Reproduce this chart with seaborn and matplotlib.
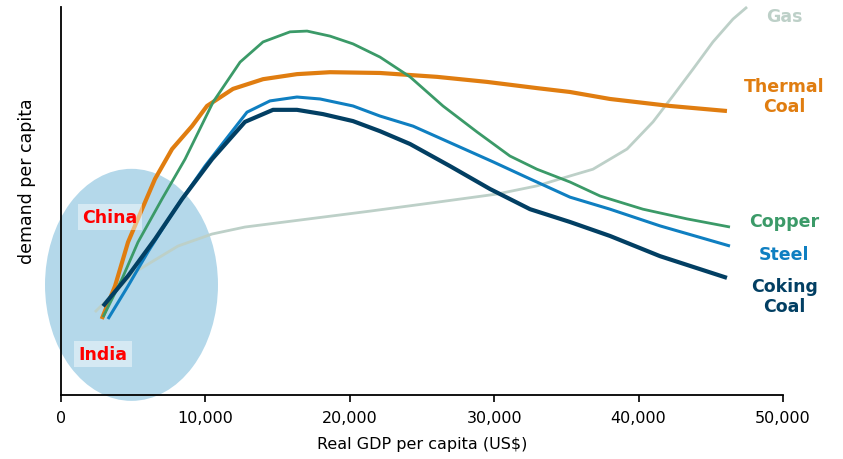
import numpy as np
import pandas as pd
import matplotlib
matplotlib.use("Agg")
import matplotlib.pyplot as plt
import seaborn as sns
from matplotlib.patches import Ellipse
from matplotlib.ticker import FuncFormatter

sns.set_style("white")
plt.rcParams['font.family'] = ['DejaVu Sans']
plt.rcParams['text.color'] = 'black'
plt.rcParams['axes.labelcolor'] = 'black'
plt.rcParams['xtick.color'] = 'black'

# ============================================================
# DATA (x in US$ thousands, y in arbitrary units)
# ============================================================
gas_x = [2.35, 5.12, 8.10, 10.46, 12.74, 21.40, 26.04, 30.19, 32.96, 34.56, 36.84,
         39.20, 41.00, 42.38, 43.77, 45.15, 46.54, 47.51]
gas_y = [21.4, 31.7, 38.4, 41.5, 43.3, 47.4, 49.7, 51.8, 53.9, 55.7, 58.2,
         63.4, 70.4, 77.1, 84.0, 91.0, 96.9, 100.0]

thermal_x = [2.82, 3.74, 4.64, 5.61, 6.51, 7.69, 9.07, 10.11, 11.91, 13.99, 16.34,
             18.63, 22.09, 26.04, 29.50, 32.96, 35.25, 38.02, 42.17, 46.12]
thermal_y = [19.6, 28.1, 39.4, 47.9, 55.7, 63.4, 69.3, 74.5, 78.9, 81.4, 82.7,
             83.2, 83.0, 82.0, 80.7, 79.1, 78.1, 76.3, 74.5, 73.2]

copper_x = [2.91, 4.22, 5.33, 6.99, 8.59, 10.53, 12.40, 13.99, 15.86, 17.04, 18.63,
            20.22, 22.09, 24.17, 26.45, 28.81, 31.09, 32.96, 35.25, 37.33, 40.30,
            43.35, 46.33]
copper_y = [20.1, 29.9, 39.4, 50.5, 60.8, 75.5, 85.8, 91.0, 93.6, 93.8, 92.5,
            90.5, 87.1, 82.0, 74.5, 67.8, 61.6, 58.2, 54.9, 51.3, 47.9,
            45.4, 43.3]

steel_x = [3.25, 4.64, 6.02, 7.89, 9.97, 12.88, 14.47, 16.34, 17.94, 20.22, 22.09,
           24.38, 27.15, 29.92, 32.48, 35.25, 38.02, 41.48, 46.33]
steel_y = [19.6, 28.1, 36.9, 47.9, 59.0, 72.9, 75.8, 76.8, 76.3, 74.5, 71.9,
           69.3, 64.7, 60.1, 55.7, 51.0, 47.9, 43.6, 38.4]

coking_x = [2.91, 4.64, 6.51, 8.38, 10.46, 12.74, 14.68, 16.34, 18.14, 20.22, 22.09,
            24.17, 26.94, 29.71, 32.48, 35.25, 38.02, 41.48, 46.12]
coking_y = [22.9, 30.7, 40.2, 50.5, 60.8, 70.4, 73.5, 73.5, 72.4, 70.6, 68.0,
            64.7, 59.0, 53.1, 47.9, 44.6, 41.0, 35.8, 30.2]

series_names = ["Gas", "Thermal\nCoal", "Copper", "Steel", "Coking\nCoal"]
series_colors = ["#bdd0c8", "#e07d10", "#3b9a68", "#0f7fc1", "#023f63"]
series_widths = [2.0, 3.0, 2.0, 2.2, 3.0]
label_y = [97.7, 77.1, 44.8, 36.3, 25.5]

x_ticks = [0, 10, 20, 30, 40, 50]

fig = plt.figure(figsize=(8.43, 4.60), dpi=100)
ax = fig.add_axes([0.0724, 0.139, 0.8564, 0.8436])

# China / India cluster
ax.add_patch(Ellipse((4.88, 28.4), 11.98, 59.8, facecolor="#b4d8ea",
                     edgecolor="none", zorder=1, clip_on=False))

all_x = [gas_x, thermal_x, copper_x, steel_x, coking_x]
all_y = [gas_y, thermal_y, copper_y, steel_y, coking_y]
for xs, ys, name, c, lw in zip(all_x, all_y, series_names, series_colors, series_widths):
    df = pd.DataFrame({"x": xs, "y": ys})
    sns.lineplot(data=df, x="x", y="y", sort=False, color=c, lw=lw, ax=ax,
                 zorder=3, clip_on=False, solid_joinstyle="round",
                 solid_capstyle="butt")

for name, c, ly in zip(series_names, series_colors, label_y):
    ax.text(50.1, ly, name, color=c, fontsize=12.5, fontweight="bold",
            ha="center", va="center", linespacing=1.15)

box = dict(facecolor="white", alpha=0.45, edgecolor="none", pad=3)
ax.text(3.39, 45.9, "China", color="#ff0000", fontsize=12.5, fontweight="bold",
        ha="center", va="center", bbox=box, zorder=4)
ax.text(2.9, 10.6, "India", color="#ff0000", fontsize=12.5, fontweight="bold",
        ha="center", va="center", bbox=box, zorder=4)

ax.set_xlim(0, 50)
ax.set_ylim(0, 100)
ax.set_xticks(x_ticks)
ax.xaxis.set_major_formatter(FuncFormatter(lambda v, p: f"{int(v * 1000):,}"))
ax.set_yticks([])
ax.tick_params(axis="x", direction="out", length=5, width=1.2, color="black",
               labelsize=11.5, pad=6, bottom=True, labelcolor="black")
for s in ["top", "right"]:
    ax.spines[s].set_visible(False)
for s in ["left", "bottom"]:
    ax.spines[s].set_color("black")
    ax.spines[s].set_linewidth(1.3)
    ax.spines[s].set_zorder(5)

ax.set_xlabel("Real GDP per capita (US$)", fontsize=11.5, labelpad=8)
ax.set_ylabel("demand per capita", fontsize=12.5)
ax.yaxis.set_label_coords(-0.035, 0.554)

fig.savefig("out.png", dpi=100)
